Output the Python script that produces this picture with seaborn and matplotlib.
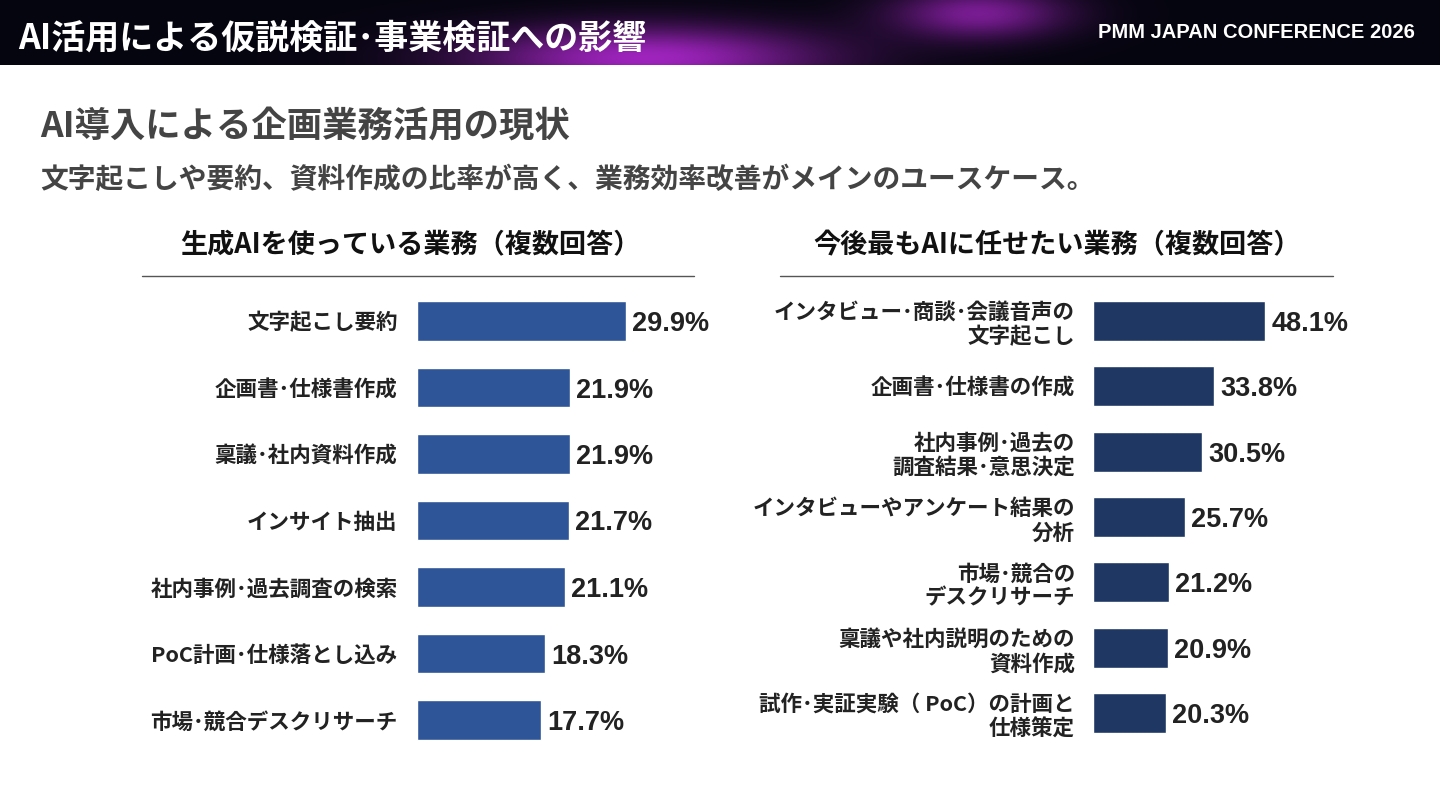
import matplotlib
matplotlib.use("Agg")
import matplotlib.pyplot as plt
import seaborn as sns
import numpy as np
import pandas as pd

left_cats = ["文字起こし要約", "企画書･仕様書作成", "稟議･社内資料作成", "インサイト抽出",
             "社内事例･過去調査の検索", "PoC計画･仕様落とし込み", "市場･競合デスクリサーチ"]
left_vals = [29.9, 21.9, 21.9, 21.7, 21.1, 18.3, 17.7]
right_cats = ["インタビュー･商談･会議音声の\n文字起こし", "企画書･仕様書の作成", "社内事例･過去の\n調査結果･意思決定",
              "インタビューやアンケート結果の\n分析", "市場･競合の\nデスクリサーチ", "稟議や社内説明のための\n資料作成",
              "試作･実証実験（ PoC）の計画と\n仕様策定"]
right_vals = [48.1, 33.8, 30.5, 25.7, 21.2, 20.9, 20.3]

sns.set_theme(style="white")
plt.rcParams['font.family'] = ['Noto Sans CJK JP', 'DejaVu Sans']
plt.rcParams['font.weight'] = 'bold'

W, H = 1440, 810
fig = plt.figure(figsize=(14.4, 8.1), dpi=100)
fig.patch.set_facecolor("white")

def ax_px(x0, y0, x1, y1):
    return fig.add_axes([x0 / W, 1 - y1 / H, (x1 - x0) / W, (y1 - y0) / H])

# header
hx = ax_px(0, 0, W, 65)
xx = np.linspace(0, 1, 600)
yy = np.linspace(0, 1, 40)
X, Y = np.meshgrid(xx, yy)
glow = np.exp(-((X - 0.45) / 0.12) ** 2) * np.exp(-((Y - 0.9) / 0.5) ** 2) * 0.8 \
     + np.exp(-((X - 0.68) / 0.06) ** 2) * 0.6 * np.exp(-((Y - 0.2) / 0.4) ** 2)
img = np.zeros((40, 600, 3))
img[..., 0] = 0.02 + glow * 0.75
img[..., 1] = 0.02 + glow * 0.15
img[..., 2] = 0.06 + glow * 0.85
hx.imshow(np.clip(img, 0, 1), aspect="auto", extent=[0, 1, 0, 1])
hx.axis("off")
fig.text(18 / W, 1 - 38 / H, "AI活用による仮説検証･事業検証への影響", color="white", fontsize=24.5,
         fontweight="bold", va="center", ha="left")
fig.text(1415 / W, 1 - 33 / H, "PMM JAPAN CONFERENCE 2026", color="white", fontsize=14.5,
         fontweight="bold", va="center", ha="right", family=["Liberation Sans", "DejaVu Sans"])

fig.text(40 / W, 1 - 126 / H, "AI導入による企画業務活用の現状", color="#444444", fontsize=25.5,
         fontweight="bold", va="center")
fig.text(40 / W, 1 - 180 / H, "文字起こしや要約、資料作成の比率が高く、業務効率改善がメインのユースケース。",
         color="#444444", fontsize=20, fontweight="bold", va="center")

def panel(title, tx, lx0, lx1, cats, vals, bx0, pxper, ytop, ybot, color, hfrac, pad):
    fig.text(tx / W, 1 - 245 / H, title, fontsize=19.5, fontweight="bold", color="#111111",
             ha="center", va="center")
    fig.add_artist(plt.Line2D([lx0 / W, lx1 / W], [1 - 276 / H, 1 - 276 / H], color="#555555", lw=1))
    wpx = 330
    ax = ax_px(bx0, ytop, bx0 + wpx, ybot)
    df = pd.DataFrame({"cat": cats, "val": vals})
    sns.barplot(data=df, y="cat", x="val", orient="h", color=color, saturation=1,
                width=hfrac, ax=ax)
    ax.set_xlim(0, wpx / pxper)
    ax.set_ylim(6.5, -0.5)
    ax.set_xlabel(""); ax.set_ylabel("")
    ax.set_xticks([])
    for s in ax.spines.values():
        s.set_visible(False)
    ax.tick_params(axis="y", length=0, pad=pad)
    for t in ax.get_yticklabels():
        t.set_fontsize(15.5); t.set_fontweight("bold"); t.set_color("#222222")
        t.set_multialignment("right"); t.set_linespacing(1.2)
    ax.set_facecolor("none")
    for i, v in enumerate(vals):
        ax.text(v + 6 / pxper, i, f"{v}%", va="center_baseline", ha="left", fontsize=19.5,
                fontweight="bold", color="#222222", family=["Liberation Sans", "DejaVu Sans"])

panel("生成AIを使っている業務（複数回答）", 410, 142, 694, left_cats, left_vals,
      417, 7.0, 287.75, 753.25, "#2E5597", 0.6, 14)
panel("今後最もAIに任せたい業務（複数回答）", 1057, 780, 1333, right_cats, right_vals,
      1093, 3.58, 288.3, 745.7, "#1F3763", 0.61, 13)

fig.savefig("out.png", dpi=100)
